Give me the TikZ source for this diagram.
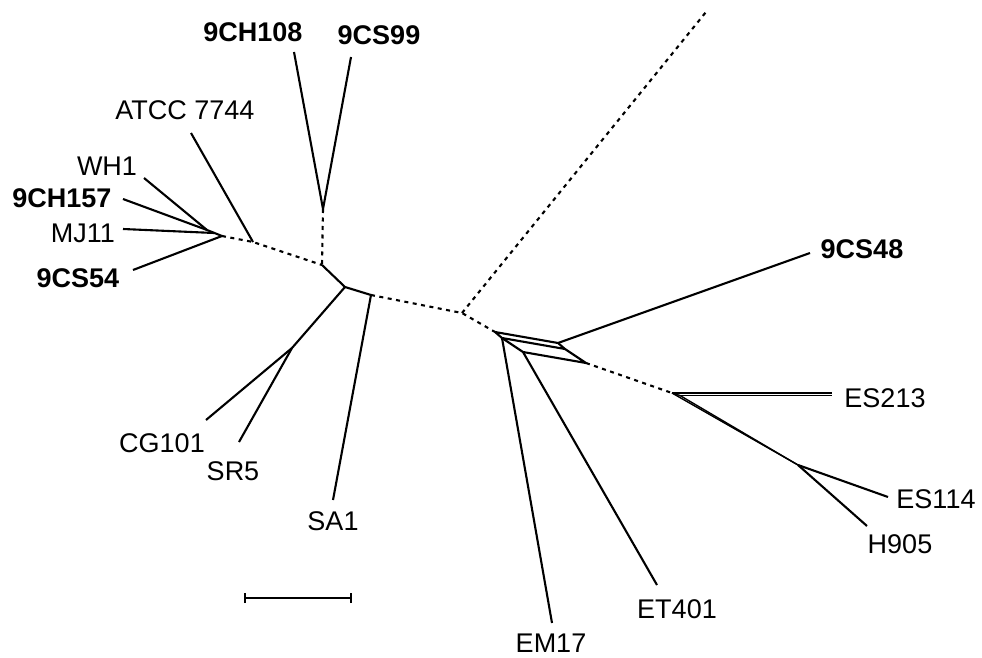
\documentclass[tikz,border=0pt]{standalone}
\usepackage{fontspec}
\setmainfont{Liberation Sans}
\usetikzlibrary{positioning}

\begin{document}
\begin{tikzpicture}[
    x=1pt,y=-1pt,
    edge/.style={line width=2.1pt,line join=round},
    dotedge/.style={line width=2.1pt,dash pattern=on 4pt off 4.5pt},
    thinedge/.style={line width=1.4pt},
    taxon/.style={font=\fontsize{27}{32}\selectfont,anchor=base,inner sep=0pt},
    btaxon/.style={taxon,font=\fontsize{27}{32}\selectfont\bfseries}
  ]
    \useasboundingbox (0,0) rectangle (982,658);

    % Junctions
    \coordinate (la)  at (207,230);
    \coordinate (lb)  at (214,233);
    \coordinate (lc)  at (222,236);
    \coordinate (atj) at (253,242);
    \coordinate (hj)  at (323,209);
    \coordinate (c1)  at (322,265);
    \coordinate (c2)  at (345,287);
    \coordinate (c3)  at (371,295);
    \coordinate (cs)  at (292,348);
    \coordinate (d1)  at (462,313);
    \coordinate (far) at (706,12);
    \coordinate (p1)  at (495,332);
    \coordinate (p2)  at (558,343);
    \coordinate (p3)  at (502,338);
    \coordinate (p6)  at (565,349);
    \coordinate (p4)  at (523,352);
    \coordinate (p5)  at (586,363);
    \coordinate (r1a) at (672,393);
    \coordinate (r1b) at (680,395.5);
    \coordinate (r2)  at (798,465);

    % Tips
    \coordinate (twh1)   at (144,178);
    \coordinate (tch157) at (123,199);
    \coordinate (tmj11)  at (123,229);
    \coordinate (tcs54)  at (133,270);
    \coordinate (tatcc)  at (191,133);
    \coordinate (tch108) at (294,52);
    \coordinate (tcs99)  at (351,57);
    \coordinate (tcg101) at (206,420);
    \coordinate (tsr5)   at (239,442);
    \coordinate (tsa1)   at (333,500);
    \coordinate (tcs48)  at (810,253);
    \coordinate (tem17)  at (552,623);
    \coordinate (tet401) at (657,585);
    \coordinate (tes213a) at (832,393);
    \coordinate (tes213b) at (832,395.5);
    \coordinate (tes114) at (888,497);
    \coordinate (th905)  at (867,526);

    % Labels
    \node[btaxon] (n9ch108) at (253,42)  {9CH108};
    \node[btaxon] (n9cs99)  at (379,45)  {9CS99};
    \node[taxon]  (natcc)   at (185,120) {ATCC 7744};
    \node[taxon]  (nwh1)    at (107,175) {WH1};
    \node[btaxon] (n9ch157) at (62,207)  {9CH157};
    \node[taxon]  (nmj11)   at (83,242)  {MJ11};
    \node[btaxon] (n9cs54)  at (78,287)  {9CS54};
    \node[taxon]  (ncg101)  at (162,452) {CG101};
    \node[taxon]  (nsr5)    at (233,480) {SR5};
    \node[taxon]  (nsa1)    at (333,530) {SA1};
    \node[btaxon] (n9cs48)  at (862,258) {9CS48};
    \node[taxon]  (nes213)  at (885,407) {ES213};
    \node[taxon]  (nes114)  at (936,508) {ES114};
    \node[taxon]  (nh905)   at (900,553) {H905};
    \node[taxon]  (net401)  at (677,618) {ET401};
    \node[taxon]  (nem17)   at (551,652) {EM17};

    % Left group
    \draw[edge] (twh1) -- (la);
    \draw[edge] (tch157) -- (la);
    \draw[edge] (tmj11) -- (lb);
    \draw[edge] (la) -- (lc);
    \draw[edge] (tcs54) -- (lc);
    \draw[edge] (tatcc) -- (atj);
    \draw[dotedge] (lc) -- (atj) -- (c1);

    % 9CH108 / 9CS99
    \draw[edge] (tch108) -- (hj) -- (tcs99);
    \draw[dotedge] (hj) -- (c1);

    % Centre
    \draw[edge] (c1) -- (c2) -- (c3);
    \draw[edge] (c2) -- (cs) -- (tcg101);
    \draw[edge] (cs) -- (tsr5);
    \draw[edge] (c3) -- (tsa1);
    \draw[dotedge] (c3) -- (d1) -- (p1);
    \draw[dotedge] (d1) -- (far);

    % Box
    \draw[edge] (p1) -- (p2) -- (p6) -- (p3) -- cycle;
    \draw[edge] (p3) -- (p4) -- (p5) -- (p6);
    \draw[edge] (p2) -- (tcs48);
    \draw[edge] (p3) -- (tem17);
    \draw[edge] (p4) -- (tet401);
    \draw[dotedge] (p5) -- (r1a);

    % Right group
    \draw[thinedge] (r1a) -- (r1b);
    \draw[thinedge] (r1a) -- (tes213a);
    \draw[thinedge] (r1b) -- (tes213b);
    \draw[thinedge] (r1a) -- (r2);
    \draw[thinedge] (r1b) -- (r2);
    \draw[edge] (r2) -- (tes114);
    \draw[edge] (r2) -- (th905);

    % Scale bar
    \coordinate (sb1) at (245,598);
    \coordinate (sb2) at (351,598);
    \draw[edge] (sb1) -- (sb2);
    \draw[edge] ([yshift=-5pt]sb1) -- ([yshift=5pt]sb1);
    \draw[edge] ([yshift=-5pt]sb2) -- ([yshift=5pt]sb2);

  \end{tikzpicture}
\end{document}
